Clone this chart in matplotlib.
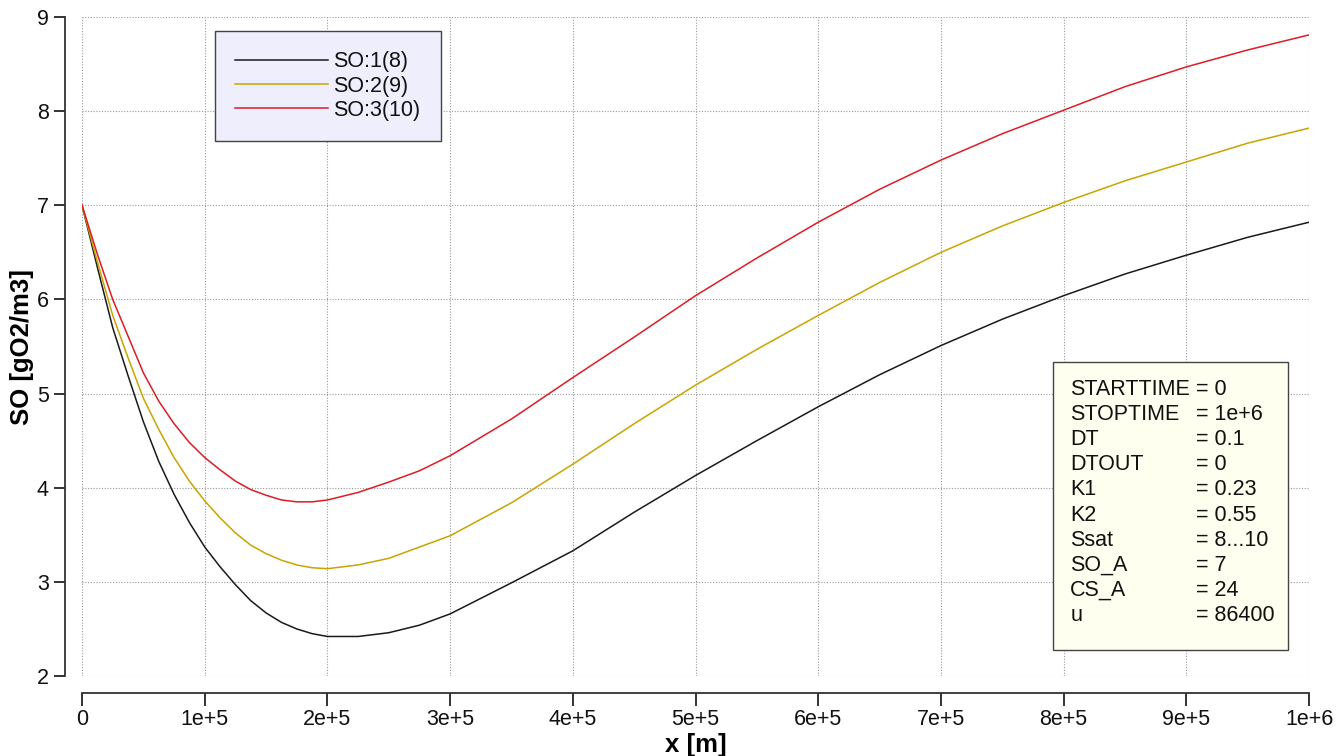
import matplotlib
matplotlib.use("Agg")
import matplotlib.pyplot as plt
from matplotlib.patches import Rectangle

plt.rcParams['font.family'] = ['Liberation Sans', 'DejaVu Sans']

# values
x_m = [0, 0.125e5, 0.25e5, 0.375e5, 0.5e5, 0.625e5, 0.75e5, 0.875e5, 1e5,
       1.125e5, 1.25e5, 1.375e5, 1.5e5, 1.625e5, 1.75e5, 1.875e5, 2e5,
       2.25e5, 2.5e5, 2.75e5, 3e5, 3.5e5, 4e5, 4.5e5, 5e5, 5.5e5, 6e5,
       6.5e5, 7e5, 7.5e5, 8e5, 8.5e5, 9e5, 9.5e5, 1e6]
so_1 = [7.0, 6.34, 5.70, 5.19, 4.70, 4.28, 3.93, 3.63, 3.37,
        3.16, 2.97, 2.80, 2.67, 2.57, 2.50, 2.45, 2.42,
        2.42, 2.46, 2.54, 2.66, 2.99, 3.33, 3.74, 4.13, 4.50, 4.86,
        5.20, 5.51, 5.79, 6.04, 6.27, 6.47, 6.66, 6.82]
so_2 = [7.0, 6.40, 5.83, 5.38, 4.95, 4.62, 4.32, 4.07, 3.86,
        3.68, 3.52, 3.39, 3.30, 3.23, 3.18, 3.15, 3.14,
        3.18, 3.25, 3.37, 3.49, 3.84, 4.25, 4.68, 5.09, 5.47, 5.83,
        6.18, 6.50, 6.78, 7.03, 7.26, 7.46, 7.66, 7.82]
so_3 = [7.0, 6.48, 6.00, 5.61, 5.22, 4.92, 4.68, 4.48, 4.32,
        4.19, 4.07, 3.98, 3.92, 3.87, 3.85, 3.85, 3.87,
        3.95, 4.06, 4.18, 4.34, 4.73, 5.17, 5.60, 6.04, 6.44, 6.82,
        7.17, 7.48, 7.76, 8.01, 8.26, 8.47, 8.65, 8.81]
series_names = ['SO:1(8)', 'SO:2(9)', 'SO:3(10)']
series_colors = ['#1a1a1a', '#c9a400', '#dd1c24']

x_ticks = [0, 1e5, 2e5, 3e5, 4e5, 5e5, 6e5, 7e5, 8e5, 9e5, 1e6]
x_tick_labels = ['0', '1e+5', '2e+5', '3e+5', '4e+5', '5e+5', '6e+5',
                 '7e+5', '8e+5', '9e+5', '1e+6']
y_ticks = [2, 3, 4, 5, 6, 7, 8, 9]

param_names = ['STARTTIME', 'STOPTIME', 'DT', 'DTOUT', 'K1', 'K2', 'Ssat',
               'SO_A', 'CS_A', 'u']
param_values = ['= 0', '= 1e+6', '= 0.1', '= 0', '= 0.23', '= 0.55',
                '= 8...10', '= 7', '= 24', '= 86400']

fig = plt.figure(figsize=(13.43, 7.56), dpi=100)
ax = fig.add_axes([0.0611, 0.1058, 0.9136, 0.8717])

for ys, name, col in zip([so_1, so_2, so_3], series_names, series_colors):
    ax.plot(x_m, ys, color=col, lw=1.1, label=name)

ax.set_xlim(0, 1e6)
ax.set_ylim(2, 9)
ax.set_xticks(x_ticks)
ax.set_xticklabels(x_tick_labels)
ax.set_yticks(y_ticks)
ax.tick_params(labelsize=15.5, colors='#111111', length=9, width=1.2)
ax.tick_params(axis='x', pad=3)
ax.tick_params(axis='y', length=8, pad=4)

ax.grid(True, color='#999999', ls=(0, (1, 1.5)), lw=0.8)
for s in ['top', 'right']:
    ax.spines[s].set_visible(False)
for s in ['left', 'bottom']:
    ax.spines[s].set_position(('outward', 12))
    ax.spines[s].set_color('#333333')
    ax.spines[s].set_linewidth(1.3)

ax.set_xlabel('x [m]', fontsize=18.5, fontweight='bold', labelpad=2)
ax.set_ylabel('SO [gO2/m3]', fontsize=18.5, fontweight='bold', labelpad=2)

leg = ax.legend(loc='upper left', bbox_to_anchor=(0.108, 0.979),
                borderaxespad=0, fontsize=15.5, handlelength=4.3,
                handletextpad=0.25, labelspacing=0.15, borderpad=0.95,
                fancybox=False, framealpha=1, facecolor='#eeeefc',
                edgecolor='#444444')
leg.get_frame().set_linewidth(1.0)
for t in leg.get_texts():
    t.set_color('#111111')

# parameter box
ax.add_patch(Rectangle((0.7914, 0.0395), 0.1915, 0.437,
                       transform=ax.transAxes, facecolor='#fffff0',
                       edgecolor='#444444', lw=1.0, zorder=5))
row0 = 0.4355
step = 25.2 / 659
for i, (n, v) in enumerate(zip(param_names, param_values)):
    yy = row0 - i * step
    ax.text(0.8053, yy, n, transform=ax.transAxes, fontsize=15.5,
            va='center', ha='left', color='#111111', zorder=6)
    ax.text(0.9079, yy, v, transform=ax.transAxes, fontsize=15.5,
            va='center', ha='left', color='#111111', zorder=6)

fig.savefig('out.png', dpi=100)
